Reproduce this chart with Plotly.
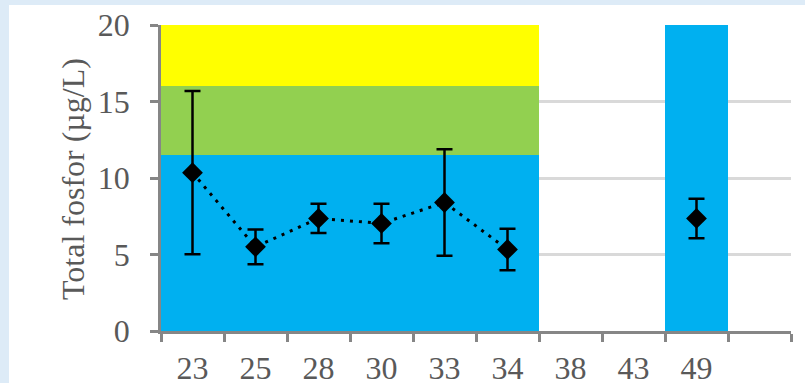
import plotly.graph_objects as go

# Sampling depths (categories) and total phosphorus measurements
categories = ["23", "25", "28", "30", "33", "34", "38", "43", "49", " "]
mean_tp = [10.35, 5.5, 7.36, 7.03, 8.4, 5.33, None, None, 7.36, None]
err_tp = [5.33, 1.14, 0.96, 1.29, 3.48, 1.36, None, None, 1.29, None]

# Classification bands (stacked): blue 0-11.5, green 11.5-16, yellow 16-20
band_blue = [11.5, 11.5, 11.5, 11.5, 11.5, 11.5, None, None, 20, None]
band_green = [4.5, 4.5, 4.5, 4.5, 4.5, 4.5, None, None, None, None]
band_yellow = [4, 4, 4, 4, 4, 4, None, None, None, None]

y_title = "Total fosfor (µg/L)"

FONT = "Liberation Serif, Times New Roman, serif"
TXT = "#595959"
AX = "#868686"
FS = 32

fig = go.Figure()
for vals, col in [(band_blue, "#00B0F0"), (band_green, "#92D050"), (band_yellow, "#FFFF00")]:
    fig.add_trace(go.Bar(x=categories, y=vals, marker=dict(color=col, line=dict(width=0)),
                         width=1, showlegend=False, hoverinfo="skip"))

fig.add_trace(go.Scatter(
    x=categories, y=mean_tp, mode="lines+markers",
    line=dict(color="black", width=3, dash="3px,6px"),
    marker=dict(symbol="diamond", size=16, color="black"),
    error_y=dict(type="data", array=err_tp, visible=True, color="black", thickness=2.5, width=8),
    connectgaps=False, showlegend=False,
))

L, R, T, B = 161, 14, 25, 52
W, H = 805, 383
pw, ph = W - L - R, H - T - B

fig.update_layout(
    width=W, height=H,
    margin=dict(l=L, r=R, t=T, b=B, pad=0, autoexpand=False),
    paper_bgcolor="#DDEBF7",
    plot_bgcolor="white",
    barmode="stack", bargap=0,
    font=dict(family=FONT, color=TXT, size=FS),
    shapes=[dict(type="rect", xref="paper", yref="paper", layer="below",
                 x0=(9 - L) / pw, x1=(W + 20 - L) / pw,
                 y0=-(B + 20) / ph, y1=(H - B - 5) / ph,
                 fillcolor="white", line=dict(width=0))],
    annotations=[dict(text=y_title, xref="paper", yref="paper",
                      x=(73 - L) / pw, y=(H - B - 179) / ph,
                      xanchor="center", yanchor="middle", textangle=-90,
                      showarrow=False, font=dict(size=FS, color=TXT, family=FONT))],
)
fig.update_xaxes(
    type="category", range=[-0.5, 9.5], tickson="boundaries", automargin=False,
    showline=True, linecolor=AX, linewidth=2.5,
    ticks="outside", ticklen=8, tickwidth=2.5, tickcolor=AX,
    showgrid=False, tickfont=dict(size=FS, color=TXT, family=FONT),
    ticklabelstandoff=7,
)
fig.update_yaxes(
    range=[0, 20], tickvals=[0, 5, 10, 15, 20], automargin=False,
    showline=True, linecolor=AX, linewidth=2.5,
    ticks="outside", ticklen=8, tickwidth=2.5, tickcolor=AX,
    showgrid=True, gridcolor="#D9D9D9", gridwidth=2.5, zeroline=False,
    tickfont=dict(size=FS, color=TXT, family=FONT),
    ticklabelstandoff=14,
)

fig.write_html("out.html")
